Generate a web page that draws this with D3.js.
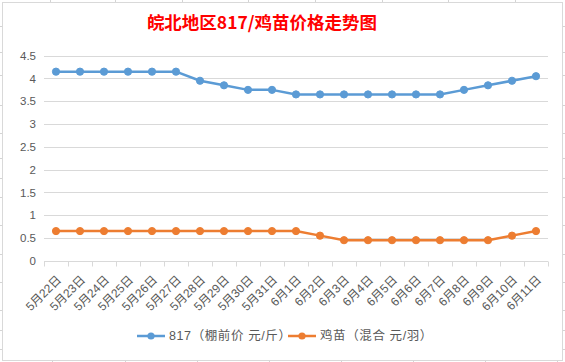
<!DOCTYPE html>
<html><head><meta charset="utf-8">
<script src="https://cdn.jsdelivr.net/npm/d3@7/dist/d3.min.js"></script>
<style>
html,body{margin:0;padding:0;background:#fff;}
svg{display:block;}
</style></head>
<body><svg id="c" width="565" height="362"></svg>
<script>
const categories = ["5月22日","5月23日","5月24日","5月25日","5月26日","5月27日","5月28日","5月29日","5月30日","5月31日","6月1日","6月2日","6月3日","6月4日","6月5日","6月6日","6月7日","6月8日","6月9日","6月10日","6月11日"];
const series817 = [4.15,4.15,4.15,4.15,4.15,4.15,3.95,3.85,3.75,3.75,3.65,3.65,3.65,3.65,3.65,3.65,3.65,3.75,3.85,3.95,4.05];
const seriesChick = [0.65,0.65,0.65,0.65,0.65,0.65,0.65,0.65,0.65,0.65,0.65,0.55,0.45,0.45,0.45,0.45,0.45,0.45,0.45,0.55,0.65];
const yTicks = [0,0.5,1,1.5,2,2.5,3,3.5,4,4.5];
const seriesNames = ["817（棚前价 元/斤）","鸡苗（混合 元/羽）"];
const colors = ["#5b9bd5","#ed7d31"];
const title = "皖北地区817/鸡苗价格走势图";

(function(){
const svg = d3.select("#c");
const FONT = "'Liberation Sans','Noto Sans CJK SC',sans-serif";

// spreadsheet background lines outside chart
const bg = svg.append("g").attr("stroke","#d4d4d4").attr("stroke-width",1);
[50,115,182,248,315,382,448,515].forEach(v=>bg.append("line").attr("x1",v+0.5).attr("x2",v+0.5).attr("y1",0).attr("y2",2));
[52,125,197,269,341,413,485,557].forEach(v=>bg.append("line").attr("x1",v+0.5).attr("x2",v+0.5).attr("y1",361).attr("y2",362));
[26,52,75,105,133,158,178,197,225,254,282,310,330,349].forEach(v=>{
  bg.append("line").attr("x1",0).attr("x2",2).attr("y1",v+0.5).attr("y2",v+0.5);
  bg.append("line").attr("x1",563).attr("x2",565).attr("y1",v+0.5).attr("y2",v+0.5);
});

// chart border
svg.append("rect").attr("x",2.5).attr("y",2.5).attr("width",560).attr("height",358)
  .attr("fill","#fff").attr("stroke","#d9d9d9").attr("stroke-width",1);

// title
svg.append("text").attr("x",262).attr("y",28.5).attr("text-anchor","middle")
  .attr("font-family","'Noto Sans CJK SC',sans-serif").attr("font-weight","bold")
  .attr("font-size",17.5).attr("fill","#ff0000").text(title);

const pl = 44, pr = 548, pt = 55.7, pb = 260.7;
const x = d3.scaleBand().domain(categories).range([pl,pr]).padding(0);
const y = d3.scaleLinear().domain([0,4.5]).range([pb,pt]);

// gridlines
svg.append("g").selectAll("line").data(yTicks.filter(d=>d>0)).join("line")
  .attr("x1",pl).attr("x2",pr)
  .attr("y1",d=>Math.round(y(d))+0.5).attr("y2",d=>Math.round(y(d))+0.5)
  .attr("stroke","#d9d9d9").attr("stroke-width",1);

// y axis labels
const yAxis = d3.axisLeft(y).tickValues(yTicks).tickSize(0).tickPadding(0).tickFormat(d=>String(d));
const yg = svg.append("g").attr("transform",`translate(${pl-8},0)`).call(yAxis);
yg.select(".domain").remove();
yg.selectAll("text").attr("font-family",FONT).attr("font-size",11.5).attr("fill","#595959");

// x axis
const xg = svg.append("g").attr("transform",`translate(0,${Math.round(pb)+0.5})`);
xg.append("line").attr("x1",pl).attr("x2",pr).attr("stroke","#d9d9d9");
const bounds = categories.map(c=>x(c)).concat([pr]);
xg.selectAll("line.t").data(bounds).join("line").attr("class","t")
  .attr("x1",d=>Math.round(d)+0.5).attr("x2",d=>Math.round(d)+0.5).attr("y1",0).attr("y2",5)
  .attr("stroke","#d9d9d9");
xg.selectAll("text").data(categories).join("text")
  .attr("transform",d=>`translate(${x(d)+x.bandwidth()/2+3},${16}) rotate(-45)`)
  .attr("text-anchor","end").attr("dy","0.35em")
  .attr("font-family",FONT).attr("font-size",12).attr("fill","#595959").text(d=>d);

// lines
const allSeries = [series817, seriesChick];
allSeries.forEach((s,i)=>{
  const line = d3.line().x((d,j)=>x(categories[j])+x.bandwidth()/2).y(d=>y(d));
  svg.append("path").datum(s).attr("d",line).attr("fill","none")
    .attr("stroke",colors[i]).attr("stroke-width",2.5).attr("stroke-linejoin","round");
  svg.append("g").selectAll("circle").data(s).join("circle")
    .attr("cx",(d,j)=>x(categories[j])+x.bandwidth()/2).attr("cy",d=>y(d))
    .attr("r",3.6).attr("fill",colors[i]).attr("stroke",colors[i]);
});

// legend
const lg = svg.append("g");
const legX = [137, 288];
seriesNames.forEach((n,i)=>{
  const g = lg.append("g").attr("transform",`translate(${legX[i]},336)`);
  g.append("line").attr("x1",0).attr("x2",28).attr("stroke",colors[i]).attr("stroke-width",2.5);
  g.append("circle").attr("cx",14).attr("r",3.6).attr("fill",colors[i]);
  g.append("text").attr("x",32).attr("dy","0.35em").attr("font-family",FONT)
    .attr("font-size",12.5).attr("letter-spacing",0.6).attr("fill","#595959").text(n);
});
})();
</script></body></html>
